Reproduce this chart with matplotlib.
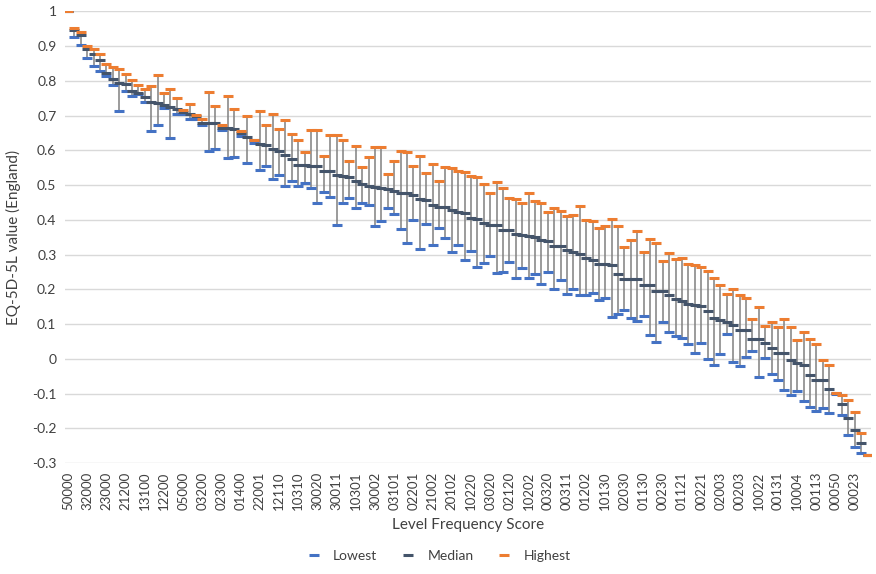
import matplotlib
matplotlib.use("Agg")
import matplotlib.pyplot as plt
import numpy as np

# every third level frequency score is labelled on the axis
tick_labels = [
    "50000", "32000", "23000", "21200", "13100", "12200", "05000", "03200", "02300", "01400",
    "22001", "12110", "10310", "30020", "30011", "10301", "30002", "03101", "02201", "21002",
    "20102", "10220", "03020", "02120", "10202", "00320", "00311", "01202", "10130", "02030",
    "01130", "00230", "01121", "00221", "02003", "00203", "10022", "00131", "10004", "00113",
    "00050", "00023",
]

lowest = [
    1.000, 0.927, 0.903, 0.867, 0.842, 0.828, 0.814, 0.788, 0.715, 0.772,
    0.757, 0.762, 0.740, 0.657, 0.672, 0.723, 0.637, 0.704, 0.705, 0.690,
    0.690, 0.672, 0.599, 0.605, 0.658, 0.577, 0.580, 0.642, 0.565, 0.622,
    0.545, 0.555, 0.517, 0.530, 0.499, 0.513, 0.499, 0.506, 0.491, 0.449,
    0.481, 0.467, 0.386, 0.449, 0.463, 0.435, 0.450, 0.442, 0.383, 0.397,
    0.435, 0.417, 0.375, 0.333, 0.401, 0.316, 0.387, 0.329, 0.376, 0.347,
    0.309, 0.329, 0.284, 0.312, 0.266, 0.276, 0.297, 0.248, 0.251, 0.279,
    0.234, 0.262, 0.234, 0.245, 0.216, 0.251, 0.202, 0.227, 0.187, 0.202,
    0.184, 0.184, 0.191, 0.171, 0.175, 0.121, 0.128, 0.142, 0.117, 0.110,
    0.124, 0.068, 0.050, 0.106, 0.078, 0.065, 0.061, 0.044, 0.018, 0.047,
    0.000, -0.017, 0.014, 0.071, -0.008, -0.021, 0.007, 0.022, -0.053, 0.004,
    -0.042, -0.060, -0.088, -0.103, -0.091, -0.120, -0.137, -0.151, -0.142, -0.155,
    -0.100, -0.160, -0.220, -0.254, -0.271, -0.276,
]

median = [
    1.000, 0.947, 0.931, 0.892, 0.878, 0.859, 0.824, 0.806, 0.795, 0.791,
    0.772, 0.764, 0.753, 0.740, 0.736, 0.732, 0.726, 0.719, 0.712, 0.704,
    0.700, 0.680, 0.680, 0.678, 0.666, 0.665, 0.662, 0.650, 0.640, 0.629,
    0.619, 0.616, 0.605, 0.599, 0.587, 0.576, 0.559, 0.559, 0.555, 0.555,
    0.541, 0.541, 0.530, 0.527, 0.523, 0.512, 0.503, 0.499, 0.495, 0.492,
    0.488, 0.484, 0.479, 0.479, 0.471, 0.460, 0.457, 0.442, 0.438, 0.438,
    0.429, 0.424, 0.421, 0.407, 0.403, 0.390, 0.386, 0.386, 0.371, 0.371,
    0.361, 0.357, 0.353, 0.350, 0.343, 0.339, 0.326, 0.326, 0.314, 0.308,
    0.301, 0.291, 0.286, 0.273, 0.273, 0.269, 0.245, 0.230, 0.230, 0.230,
    0.213, 0.213, 0.195, 0.195, 0.184, 0.174, 0.167, 0.159, 0.155, 0.152,
    0.139, 0.117, 0.112, 0.105, 0.099, 0.083, 0.083, 0.058, 0.058, 0.046,
    0.033, 0.018, 0.016, -0.002, -0.011, -0.017, -0.045, -0.060, -0.060, -0.085,
    -0.097, -0.131, -0.170, -0.204, -0.241, -0.276,
]

highest = [
    1.000, 0.952, 0.941, 0.902, 0.891, 0.878, 0.849, 0.839, 0.835, 0.821,
    0.803, 0.788, 0.778, 0.786, 0.817, 0.765, 0.776, 0.750, 0.717, 0.733,
    0.703, 0.690, 0.767, 0.729, 0.672, 0.758, 0.718, 0.656, 0.700, 0.630,
    0.715, 0.672, 0.704, 0.662, 0.687, 0.648, 0.630, 0.595, 0.658, 0.658,
    0.584, 0.645, 0.645, 0.630, 0.570, 0.612, 0.553, 0.580, 0.609, 0.609,
    0.531, 0.570, 0.599, 0.595, 0.555, 0.584, 0.534, 0.560, 0.513, 0.553,
    0.549, 0.542, 0.538, 0.527, 0.524, 0.503, 0.479, 0.509, 0.492, 0.463,
    0.460, 0.450, 0.478, 0.456, 0.450, 0.424, 0.435, 0.425, 0.410, 0.415,
    0.439, 0.400, 0.396, 0.376, 0.383, 0.404, 0.383, 0.322, 0.343, 0.368,
    0.308, 0.346, 0.333, 0.283, 0.305, 0.287, 0.290, 0.274, 0.270, 0.266,
    0.254, 0.234, 0.213, 0.188, 0.201, 0.185, 0.175, 0.114, 0.149, 0.096,
    0.106, 0.093, 0.114, 0.093, 0.055, 0.079, 0.057, 0.042, -0.003, -0.016,
    -0.097, -0.103, -0.117, -0.152, -0.212, -0.276,
]

plt.rcParams["font.family"] = ["Lato", "DejaVu Sans"]

fig = plt.figure(figsize=(8.76, 5.74), dpi=100)
ax = fig.add_axes([0.074, 0.193, 0.920, 0.787])

x = np.arange(len(median))
ax.vlines(x, lowest, highest, color="#808080", lw=1.1, zorder=2)
series = [
    (lowest, "#4472C4", "Lowest"),
    (median, "#44546A", "Median"),
    (highest, "#ED7D31", "Highest"),
]
for vals, col, name in series:
    ax.plot(x, vals, ls="none", marker="_", ms=7, mew=2.2, color=col, label=name, zorder=3)

ax.set_xlim(-0.5, len(median) - 0.5)
ax.set_ylim(-0.3, 1.0)
yt = np.round(np.arange(-0.3, 1.001, 0.1), 1)
ax.set_yticks(yt)
ax.set_yticklabels([f"{v:g}" for v in yt], fontsize=10, color="#404040")
ax.set_xticks(x[::3])
ax.set_xticklabels(tick_labels, rotation=90, fontsize=9.5, color="#404040")
ax.tick_params(length=0, pad=6)
ax.grid(axis="y", color="#d9d9d9", lw=1, zorder=0)
for s in ax.spines.values():
    s.set_visible(False)

ax.set_xlabel("Level Frequency Score", fontsize=11, color="#404040", labelpad=6)
ax.set_ylabel("EQ-5D-5L value (England)", fontsize=11, color="#404040", labelpad=8)

fig.legend(loc="lower center", bbox_to_anchor=(0.5, 0.0), ncol=3, frameon=False,
           fontsize=10, handlelength=1.2, columnspacing=1.6, labelcolor="#404040")

fig.savefig("out.png", dpi=100)
